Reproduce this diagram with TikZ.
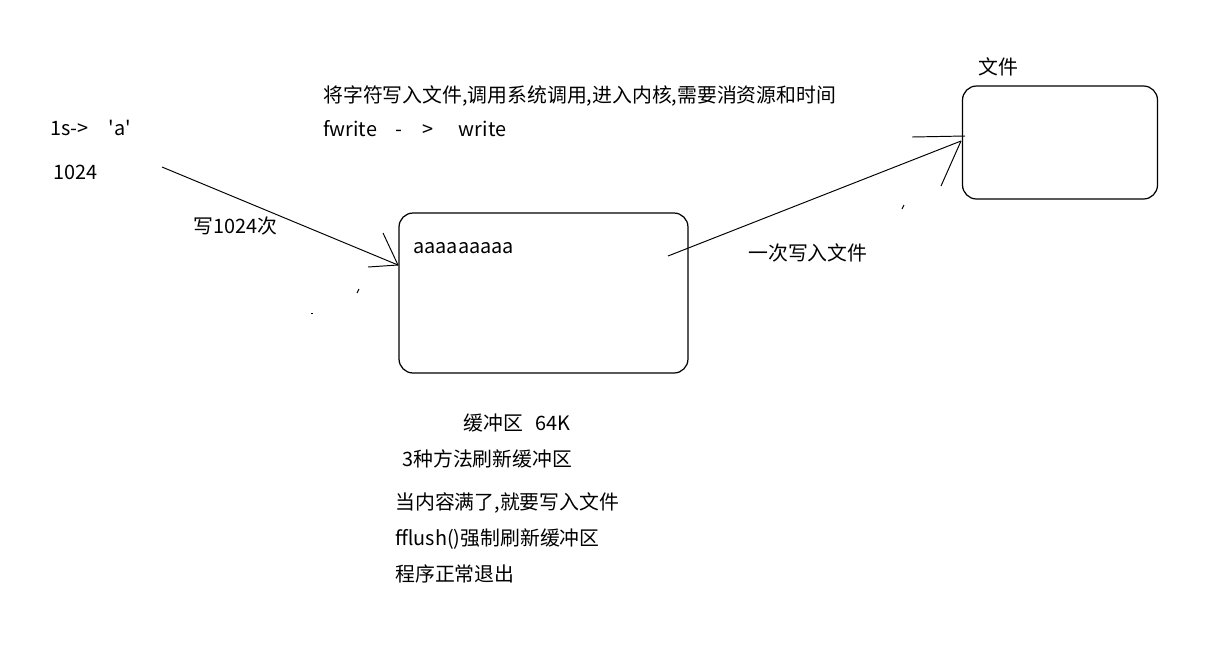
\documentclass[tikz,border=0pt]{standalone}
\usepackage{fontspec}
\newfontfamily\yahei{Noto Sans CJK SC}
\usepackage{tikz}
\usetikzlibrary{calc}
\tikzset{
    memo/.style={anchor=west, inner sep=0pt, text height=8.5pt, text depth=0.5pt,
        font=\yahei\fontsize{11.3}{13}\selectfont},
    roundbox/.style={draw, rounded corners=0.28cm, line width=0.7pt, inner sep=0pt},
    stroke/.style={line width=0.55pt}
}

\begin{document}
\begin{tikzpicture}[x=0.02cm, y=-0.02cm]
            \useasboundingbox (0,0) rectangle (1223,647);

            % boxes: buffer and file
            \node[roundbox, minimum width=5.78cm, minimum height=3.2cm] (buf) at (543.5,293) {};
            \node[roundbox, minimum width=3.9cm, minimum height=2.26cm] (file) at (1060,142.5) {};

            % texts
            \node[memo] (filelabel) at (978,67) {文件};
            \node[memo] (syscall) at (323,95) {将字符写入文件,调用系统调用,进入内核,需要消资源和时间};
            \node[memo] (fwrite) at (323,129) {fwrite\hspace{0.36cm}-\hspace{0.42cm}>\hspace{0.5cm}write};
            \node[memo] (onechar) at (50,128) {1s->\hspace{0.4cm}'a'};
            \node[memo] (count) at (53,172) {1024};
            \node[memo] (times) at (193,226) {写1024次};
            \node[memo] (content) at (413,246) {aaaaaaaaa};
            \node[memo] (once) at (748,253) {一次写入文件};
            \node[memo] (bufsize) at (463,423) {缓冲区\hspace{0.26cm}64K};
            \node[memo] (ways) at (402,459) {3种方法刷新缓冲区};
            \node[memo] (way1) at (395,502) {当内容满了,就要写入文件};
            \node[memo] (way2) at (395,538) {fflush()强制刷新缓冲区};
            \node[memo] (way3) at (395,574) {程序正常退出};

            % arrow ends
            \coordinate (from1) at (162,167);
            \coordinate (tip1) at (398,265);
            \coordinate (from2) at (668,256);
            \coordinate (tip2) at (961,141);

            % write 1024 times into the buffer
            \draw[stroke] (from1) -- (tip1);
            \draw[stroke] (tip1) -- ++(-15,-32);
            \draw[stroke] (tip1) -- ++(-30,2);

            % flush once into the file
            \draw[stroke] (from2) -- (tip2);
            \draw[stroke] ($(tip2)+(-49,-4)$) -- ++(53,-1);
            \draw[stroke] (tip2) -- ++(-20,45);

            % stray marks
            \draw[stroke] (357,293) -- (359,289);
            \draw[stroke] (311,313) -- (313,313);
            \draw[stroke] (902,209) -- (904,205);
        \end{tikzpicture}
\end{document}
